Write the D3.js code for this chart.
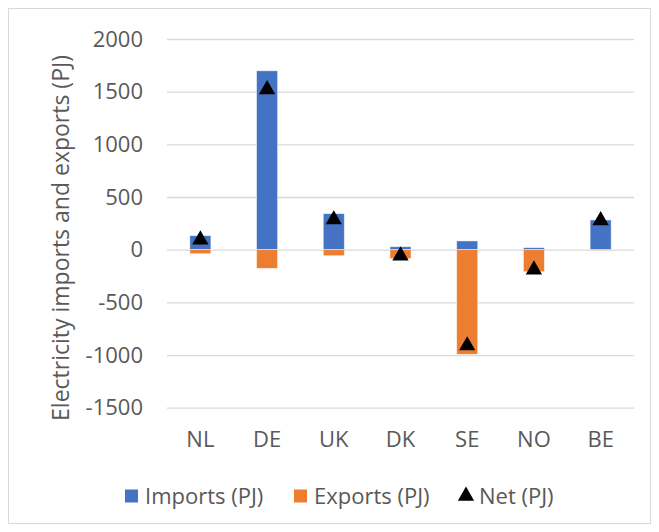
<!DOCTYPE html>
<html>
<head>
<meta charset="utf-8">
<script src="https://cdn.jsdelivr.net/npm/d3@7"></script>
<style>
  body { margin: 0; background: #fff; }
  text { font-family: "Open Sans", "Noto Sans", sans-serif; fill: #595959; }
</style>
</head>
<body>
<div class="chart"></div>
<script>
// values (PJ)
const countries = ["NL", "DE", "UK", "DK", "SE", "NO", "BE"];
const imports = [133, 1698, 342, 28, 83, 19, 282];
const exports = [-38, -177, -57, -85, -993, -209, -5];
const net = [95, 1521, 285, -57, -910, -190, 277];
const yTicks = [-1500, -1000, -500, 0, 500, 1000, 1500, 2000];
const legendLabels = ["Imports (PJ)", "Exports (PJ)", "Net (PJ)"];

const width = 659;
const height = 532;
const blue = "#4472C4", orange = "#ED7D31";
const fs = 22;

const svg = d3.select(".chart")
    .append("svg")
    .attr("width", width)
    .attr("height", height);

// outer chart border
svg.append("rect")
    .attr("x", 8.5).attr("y", 8.5)
    .attr("width", width - 17).attr("height", height - 17)
    .attr("fill", "#fff")
    .attr("stroke", "#d9d9d9");

const plotL = 167, plotR = 634, plotT = 39, plotB = 407.7;

const x = d3.scaleBand()
    .domain(countries)
    .range([plotL, plotR])
    .paddingInner(0.685)
    .paddingOuter(0.3425);

const y = d3.scaleLinear()
    .domain([-1500, 2000])
    .range([plotB, plotT]);

// gridlines + y labels
const yAxis = svg.append("g")
    .attr("transform", `translate(${plotL},0)`)
    .call(d3.axisLeft(y)
        .tickValues(yTicks)
        .tickSize(-(plotR - plotL))
        .tickPadding(24)
        .tickFormat(d => String(d)));
yAxis.select(".domain").remove();
yAxis.selectAll("line").attr("stroke", "#d9d9d9").attr("stroke-width", 1.3);
yAxis.selectAll("text")
    .attr("font-size", fs)
    .style("font-family", "'Open Sans', sans-serif")
    .attr("fill", "#595959");

// bars
const rows = countries.map((c, i) => ({ c, imp: imports[i], exp: exports[i], net: net[i] }));

svg.selectAll(".imp")
    .data(rows)
    .enter()
    .append("rect")
    .attr("class", "imp")
    .attr("x", d => x(d.c))
    .attr("width", x.bandwidth())
    .attr("y", d => y(d.imp))
    .attr("height", d => y(0) - y(d.imp))
    .attr("fill", blue)
    .attr("stroke", "#fff")
    .attr("stroke-opacity", 0.6)
    .attr("stroke-width", 0.75);

svg.selectAll(".exp")
    .data(rows)
    .enter()
    .append("rect")
    .attr("class", "exp")
    .attr("x", d => x(d.c))
    .attr("width", x.bandwidth())
    .attr("y", y(0))
    .attr("height", d => y(d.exp) - y(0))
    .attr("fill", orange)
    .attr("stroke", "#fff")
    .attr("stroke-opacity", 0.6)
    .attr("stroke-width", 0.75);

// net markers
const tri = d3.symbol().type(d3.symbolTriangle).size(115);
svg.selectAll(".net")
    .data(rows)
    .enter()
    .append("path")
    .attr("class", "net")
    .attr("d", tri)
    .attr("transform", d => `translate(${x(d.c) + x.bandwidth() / 2},${y(d.net)})`)
    .attr("fill", "#000");

// category labels
const xAxis = svg.append("g")
    .attr("transform", `translate(0,${plotB})`)
    .call(d3.axisBottom(x).tickSize(0).tickPadding(24));
xAxis.select(".domain").remove();
xAxis.selectAll("text")
    .attr("font-size", fs)
    .style("font-family", "'Open Sans', sans-serif")
    .attr("fill", "#595959");

// y title
svg.append("text")
    .attr("transform", "translate(69,238) rotate(-90)")
    .attr("text-anchor", "middle")
    .attr("font-size", 23)
    .text("Electricity imports and exports (PJ)");

// legend
const legX = [125, 294, 458];
const leg = svg.selectAll(".leg")
    .data(legendLabels)
    .enter()
    .append("g")
    .attr("class", "leg")
    .attr("transform", (d, i) => `translate(${legX[i]},496)`);

leg.filter((d, i) => i < 2)
    .append("rect")
    .attr("x", 0).attr("y", -6.5)
    .attr("width", 13).attr("height", 13)
    .attr("fill", (d, i) => [blue, orange][i]);

leg.filter((d, i) => i === 2)
    .append("path")
    .attr("d", tri)
    .attr("transform", "translate(8,0)")
    .attr("fill", "#000");

leg.append("text")
    .attr("x", (d, i) => i === 2 ? 21 : 20)
    .attr("y", 8)
    .attr("font-size", fs)
    .text(d => d);
</script>
</body>
</html>
